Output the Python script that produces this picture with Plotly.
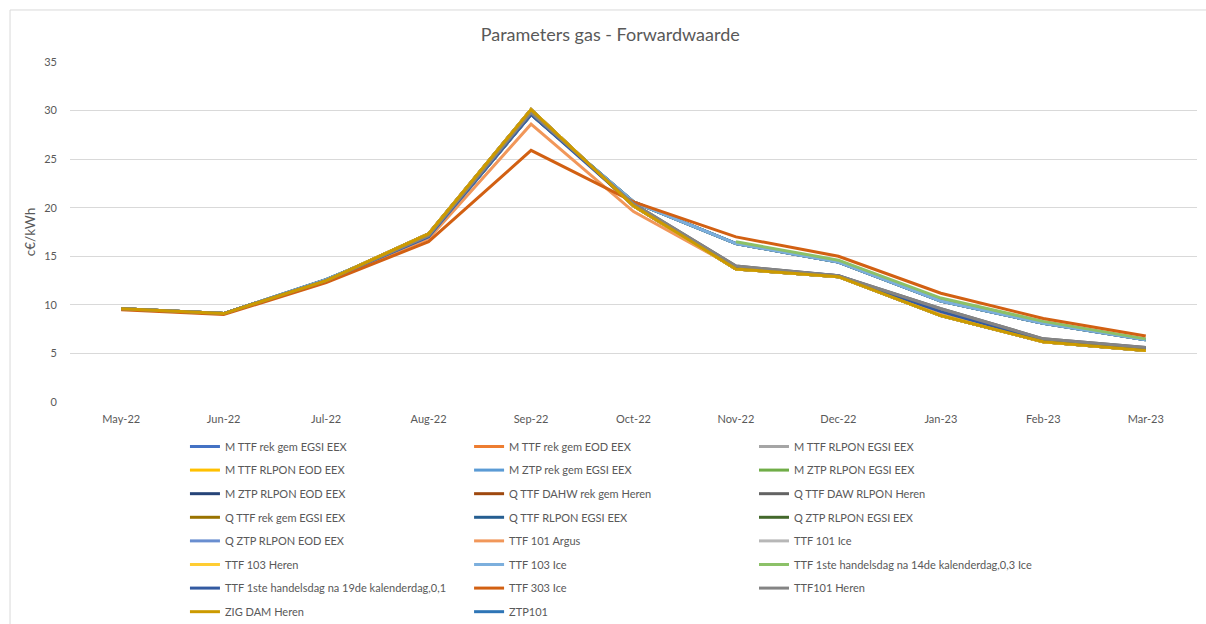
import plotly.graph_objects as go

months = ["May-22", "Jun-22", "Jul-22", "Aug-22", "Sep-22", "Oct-22",
          "Nov-22", "Dec-22", "Jan-23", "Feb-23", "Mar-23"]

# value profiles (c€/kWh)
low_group = [9.6, 9.1, 12.5, 17.3, 30.1, 20.2, 13.7, 12.9, 8.9, 6.2, 5.3]
gray_group = [9.6, 9.1, 12.5, 17.1, 29.8, 20.4, 14.0, 13.0, 9.6, 6.5, 5.6]
dark_blue_group = [9.6, 9.1, 12.5, 17.0, 29.6, 20.3, 13.9, 13.0, 9.3, 6.4, 5.5]
upper_blue = [9.6, 9.1, 12.6, 17.0, 29.6, 20.6, 16.3, 14.4, 10.4, 8.1, 6.4]
green_partial = [None, None, None, None, None, None, 16.5, 14.6, 10.7, 8.3, 6.5]
argus = [9.6, 9.1, 12.5, 16.8, 28.6, 19.6, 13.8, 13.0, 9.0, 6.2, 5.4]
ice303 = [9.5, 9.0, 12.3, 16.5, 25.9, 20.6, 17.0, 15.0, 11.2, 8.6, 6.8]
empty = [None] * 11

series_names = [
    "M TTF rek gem EGSI EEX", "M TTF rek gem EOD EEX", "M TTF RLPON EGSI EEX",
    "M TTF RLPON EOD EEX", "M ZTP rek gem EGSI EEX", "M ZTP RLPON EGSI EEX",
    "M ZTP RLPON EOD EEX", "Q TTF DAHW rek gem Heren", "Q TTF DAW RLPON Heren",
    "Q TTF rek gem EGSI EEX", "Q TTF RLPON EGSI EEX", "Q ZTP RLPON EGSI EEX",
    "Q ZTP RLPON EOD EEX", "TTF 101 Argus", "TTF 101 Ice",
    "TTF 103 Heren", "TTF 103 Ice", "TTF 1ste handelsdag na 14de kalenderdag,0,3 Ice",
    "TTF 1ste handelsdag na 19de kalenderdag,0,1", "TTF 303 Ice", "TTF101 Heren",
    "ZIG DAM Heren", "ZTP101",
]
series_values = [
    low_group, low_group, low_group,
    low_group, upper_blue, upper_blue,
    upper_blue, low_group, gray_group,
    low_group, low_group, upper_blue,
    upper_blue, argus, low_group,
    low_group, upper_blue, green_partial,
    dark_blue_group, ice303, gray_group,
    low_group, empty,
]
series_colors = [
    "#4472C4", "#ED7D31", "#A5A5A5", "#FFC000", "#5B9BD5", "#70AD47",
    "#264478", "#9E480E", "#636363", "#997300", "#255E91", "#43682B",
    "#698ED0", "#F1975A", "#B7B7B7", "#FFCD33", "#7CAFDD", "#8CC168",
    "#335AA1", "#D26012", "#848484", "#CC9A00", "#2E75B6",
]

legend_ids = ["legend", "legend2", "legend3"]

fig = go.Figure()
for i, (name, vals, col) in enumerate(zip(series_names, series_values, series_colors)):
    fig.add_trace(go.Scatter(
        x=months, y=vals, name=name, mode="lines",
        line=dict(color=col, width=3),
        legend=legend_ids[i % 3], legendgroup=f"g{i}", legendrank=i + 1,
        hovertemplate="%{x}: %{y}<extra>" + name + "</extra>",
    ))

font_family = "Lato, Open Sans, sans-serif"
legend_common = dict(
    orientation="v", yanchor="top", xanchor="left", y=-0.0882,
    font=dict(family=font_family, size=11, color="#595959"),
    tracegroupgap=4.6, bgcolor="rgba(0,0,0,0)", itemwidth=30,
)

fig.update_layout(
    width=1206, height=624,
    margin=dict(l=70, r=9, t=62, b=222, autoexpand=False),
    paper_bgcolor="white", plot_bgcolor="white",
    title=dict(text="Parameters gas - Forwardwaarde", x=0.506, xanchor="center",
               y=0.944, yanchor="middle",
               font=dict(family=font_family, size=18, color="#595959")),
    font=dict(family=font_family, size=11, color="#595959"),
    xaxis=dict(type="category", range=[-0.5, 10.5], showgrid=False,
               showline=False, ticks="", zeroline=False, ticklabelstandoff=9,
               tickfont=dict(size=11, color="#595959")),
    yaxis=dict(range=[0, 35], dtick=5, tick0=0, showgrid=True, gridcolor="#D9D9D9",
               gridwidth=1, zeroline=False, showline=False, ticks="",
               ticklabelstandoff=12,
               tickfont=dict(size=11, color="#595959"),
               title=dict(text="c€/kWh", standoff=5,
                          font=dict(size=13.5, color="#595959"))),
    legend=dict(x=0.1020, **legend_common),
    legend2=dict(x=0.3541, **legend_common),
    legend3=dict(x=0.6069, **legend_common),
    showlegend=True,
    shapes=[dict(type="rect", xref="paper", yref="paper",
                 x0=-0.0532, x1=1.02, y0=-0.7, y1=1.153,
                 line=dict(color="#D9D9D9", width=1), fillcolor="rgba(0,0,0,0)",
                 layer="below")],
)

fig.write_html("out.html", config={"displayModeBar": False},
               post_script="document.body.style.margin='0';")
